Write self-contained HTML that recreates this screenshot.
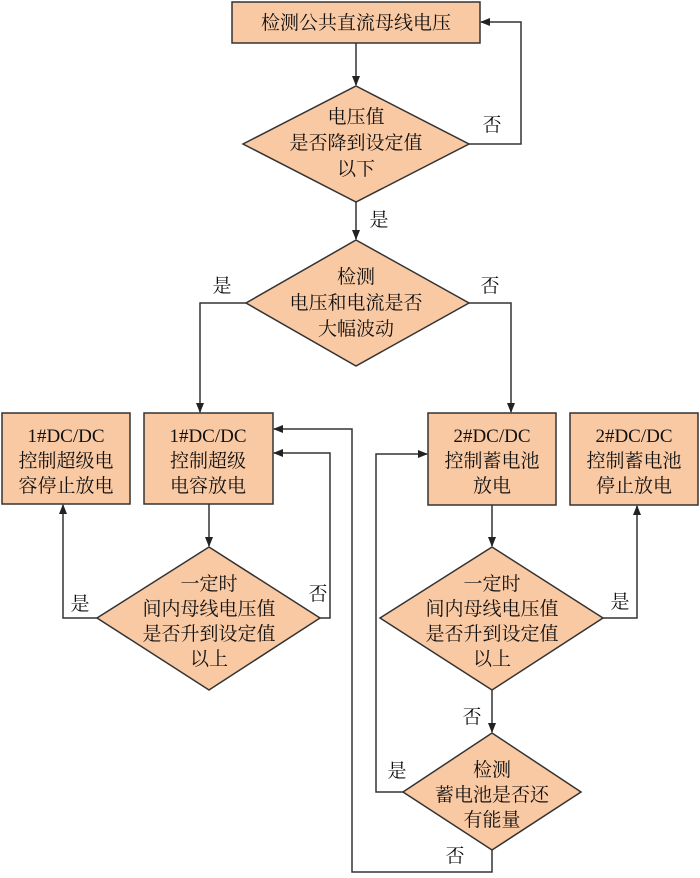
<!DOCTYPE html>
<html><head><meta charset="utf-8"><style>
html,body{margin:0;padding:0;background:#fff;}
svg text{font-family:"Liberation Serif","Noto Serif CJK SC","Noto Sans CJK SC",serif;font-size:19px;fill:#111;text-anchor:middle;}
</style></head><body>
<svg width="700" height="873" viewBox="0 0 700 873" xmlns="http://www.w3.org/2000/svg">
<defs><marker id="a" markerWidth="10" markerHeight="8" refX="9" refY="4" orient="auto" markerUnits="userSpaceOnUse"><path d="M0,0 L10,4 L0,8 Z" fill="#222"/></marker></defs>
<g fill="#f9c9a3" stroke="#333" stroke-width="1.5">
<rect x="232" y="2" width="248" height="41"/>
<polygon points="356,86 469,144 356,202 243,144"/>
<polygon points="356,240 469,303 356,366 246,303"/>
<rect x="2" y="413" width="128" height="91"/>
<rect x="144" y="413" width="129" height="91"/>
<rect x="428" y="413" width="128" height="92"/>
<rect x="570" y="413" width="128" height="92"/>
<polygon points="209,547 320,618 209,690 97,618"/>
<polygon points="492,547 603,618 492,690 380,618"/>
<polygon points="492,733 581,792 492,850 403,792"/>
</g>
<g fill="none" stroke="#333" stroke-width="1.5">
<line x1="356" y1="43" x2="356" y2="85" marker-end="url(#a)"/>
<polyline points="469,144 521,144 521,22 481,22" marker-end="url(#a)"/>
<line x1="356" y1="202" x2="356" y2="239" marker-end="url(#a)"/>
<polyline points="246,303 200,303 200,412" marker-end="url(#a)"/>
<polyline points="469,303 511,303 511,412" marker-end="url(#a)"/>
<line x1="209" y1="504" x2="209" y2="546" marker-end="url(#a)"/>
<polyline points="97,618 63,618 63,505" marker-end="url(#a)"/>
<polyline points="320,618 330,618 330,453 274,453" marker-end="url(#a)"/>
<line x1="492" y1="505" x2="492" y2="546" marker-end="url(#a)"/>
<polyline points="603,618 637,618 637,506" marker-end="url(#a)"/>
<line x1="492" y1="690" x2="492" y2="732" marker-end="url(#a)"/>
<polyline points="403,792 376,792 376,454 427,454" marker-end="url(#a)"/>
<polyline points="492,850 492,872 352,872 352,429 274,429" marker-end="url(#a)"/>
</g>
<text x="356" y="29">检测公共直流母线电压</text>
<text x="356" y="123">电压值</text><text x="356" y="149">是否降到设定值</text><text x="356" y="175">以下</text>
<text x="356" y="283">检测</text><text x="356" y="309">电压和电流是否</text><text x="356" y="335">大幅波动</text>
<text x="66" y="442">1#DC/DC</text><text x="66" y="467">控制超级电</text><text x="66" y="492">容停止放电</text>
<text x="208" y="442">1#DC/DC</text><text x="208" y="467">控制超级</text><text x="208" y="492">电容放电</text>
<text x="492" y="442">2#DC/DC</text><text x="492" y="467">控制蓄电池</text><text x="492" y="492">放电</text>
<text x="634" y="442">2#DC/DC</text><text x="634" y="467">控制蓄电池</text><text x="634" y="492">停止放电</text>
<text x="209" y="590">一定时</text><text x="209" y="615">间内母线电压值</text><text x="209" y="640">是否升到设定值</text><text x="209" y="665">以上</text>
<text x="492" y="590">一定时</text><text x="492" y="615">间内母线电压值</text><text x="492" y="640">是否升到设定值</text><text x="492" y="665">以上</text>
<text x="492" y="776">检测</text><text x="492" y="801">蓄电池是否还</text><text x="492" y="826">有能量</text>
<text x="492" y="131">否</text>
<text x="379" y="226">是</text>
<text x="222" y="292">是</text>
<text x="490" y="292">否</text>
<text x="80" y="610">是</text>
<text x="318" y="600">否</text>
<text x="620" y="608">是</text>
<text x="472" y="723">否</text>
<text x="397" y="777">是</text>
<text x="455" y="862">否</text>
</svg>
</body></html>
